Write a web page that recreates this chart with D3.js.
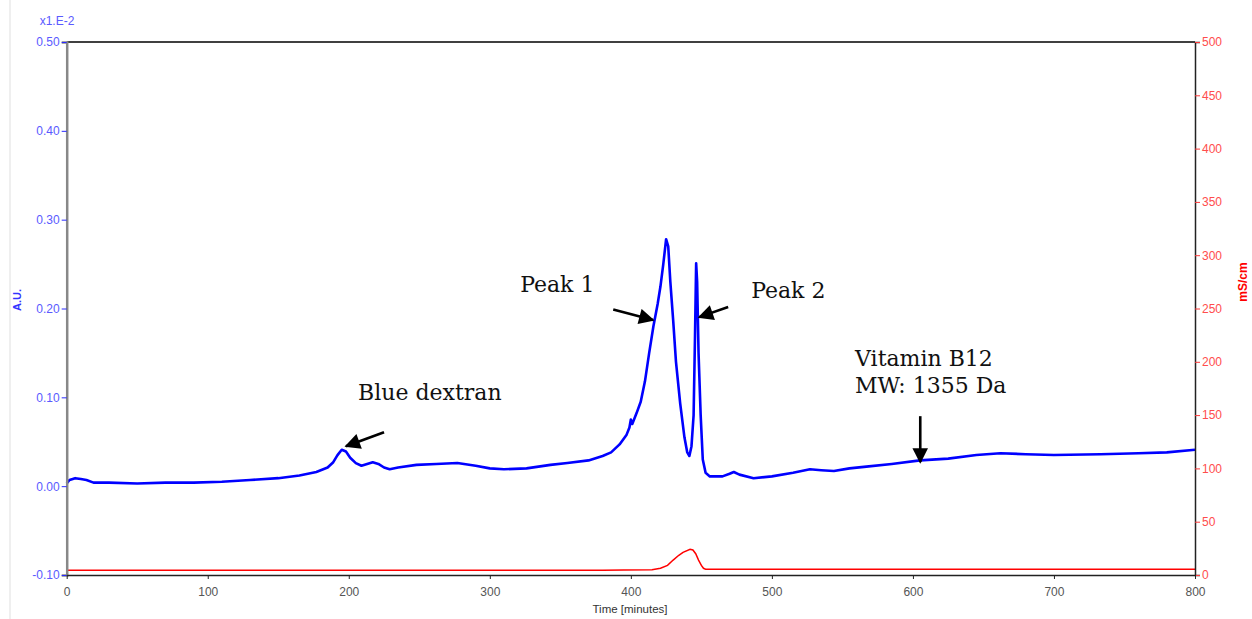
<!DOCTYPE html>
<html>
<head>
<meta charset="utf-8">
<script src="https://cdn.jsdelivr.net/npm/d3@7"></script>
<style>
  html, body { margin: 0; padding: 0; background: #fff; }
  svg { display: block; }
  .tick text { font-family: "Liberation Sans Narrow", "Arial Narrow", "Liberation Sans", Arial, sans-serif; }
</style>
</head>
<body>
<svg id="chart" width="1252" height="619"></svg>
<script>
// UV absorbance trace (A.U., left axis) against elution time
const absTime = [0, 2, 6, 10, 14, 19, 30, 50, 70, 90, 110, 130, 150, 165, 177, 185, 189, 192, 195, 198,
  201, 205, 209, 213, 217, 221, 225, 229, 235, 248, 262, 277, 290, 300, 310, 326, 343, 355, 370, 380,
  386, 392, 397, 399, 400, 401, 404, 407, 410, 413, 416, 419, 421, 423, 425, 426.5, 428, 430, 432, 435,
  438, 440, 441.5, 443, 444.5, 445.5, 446.3, 447, 448, 449.5, 451, 453, 456, 465, 470, 473, 477, 487, 500, 515,
  527, 535, 544, 555, 567, 585, 605, 625, 645, 662, 680, 700, 733, 760, 780, 800];
const absValue = [0.003, 0.007, 0.009, 0.008, 0.007, 0.004, 0.004, 0.003, 0.004, 0.004, 0.005, 0.007, 0.009, 0.012, 0.016, 0.021, 0.027, 0.035, 0.041, 0.039,
  0.032, 0.026, 0.023, 0.025, 0.027, 0.025, 0.021, 0.019, 0.021, 0.024, 0.025, 0.026, 0.023, 0.020, 0.019, 0.020, 0.024, 0.026, 0.029, 0.034,
  0.038, 0.047, 0.058, 0.066, 0.075, 0.070, 0.082, 0.095, 0.118, 0.150, 0.180, 0.205, 0.225, 0.250, 0.278, 0.270, 0.230, 0.187, 0.140, 0.093,
  0.055, 0.038, 0.034, 0.045, 0.080, 0.170, 0.251, 0.230, 0.150, 0.080, 0.030, 0.015, 0.011, 0.011, 0.014, 0.016, 0.013, 0.009, 0.011, 0.015,
  0.019, 0.018, 0.017, 0.020, 0.022, 0.025, 0.029, 0.031, 0.035, 0.037, 0.036, 0.035, 0.036, 0.037, 0.038, 0.041];

// Conductivity trace (mS/cm, right axis)
const condTime = [0, 380, 395, 415, 421, 426, 430, 434, 437, 442, 444, 446, 448, 450, 451.5, 453, 800];
const condValue = [4.5, 4.5, 4.6, 5.0, 6.3, 9, 14, 18.5, 21.3, 24.1, 23.5, 20, 14, 9, 6.3, 5.5, 5.5];

// Axis ticks
const timeTicks = [0, 100, 200, 300, 400, 500, 600, 700, 800];
const auTicks = [-0.10, 0.00, 0.10, 0.20, 0.30, 0.40, 0.50];
const condTicks = [0, 50, 100, 150, 200, 250, 300, 350, 400, 450, 500];

// Annotations: label text with anchor (time, A.U.), arrows from -> to in (time, A.U.)
const noteText = ["Blue dextran", "Peak 1", "Peak 2", "Vitamin B12", "MW: 1355 Da"];
const noteTime = [206.6, 321.5, 485.3, 559, 559];
const noteAU = [0.0968, 0.2185, 0.2117, 0.1355, 0.1044];
const arrowFrom = [[225, 0.0608], [387.5, 0.199], [469, 0.2016], [605.2, 0.0788]];
const arrowTo = [[198, 0.045], [415.8, 0.187], [448.4, 0.1903], [605.2, 0.027]];

const svg = d3.select("#chart");
const plotL = 66.7, plotR = 1195, plotT = 42, plotB = 575;

const x = d3.scaleLinear().domain([0, 800]).range([plotL, plotR]);
const y = d3.scaleLinear().domain([-0.1, 0.5]).range([plotB, plotT]);
const yR = d3.scaleLinear().domain([0, 500]).range([plotB, plotT]);

// faint frame edge on the far left
svg.append("rect").attr("x", 9).attr("y", 0).attr("width", 2).attr("height", 619).attr("fill", "#efefef");

// top border
svg.append("line").attr("x1", plotL).attr("x2", plotR).attr("y1", plotT).attr("y2", plotT)
  .attr("stroke", "#000").attr("stroke-width", 1.5);

// traces
const condLine = d3.line().x((d, i) => x(condTime[i])).y(d => yR(d));
svg.append("path").datum(condValue).attr("d", condLine)
  .attr("fill", "none").attr("stroke", "#ff0000").attr("stroke-width", 1.5);

const absLine = d3.line().x((d, i) => x(absTime[i])).y(d => y(d));
svg.append("path").datum(absValue).attr("d", absLine)
  .attr("fill", "none").attr("stroke", "#0000ff").attr("stroke-width", 2.6)
  .attr("stroke-linejoin", "round");

// left axis
const fmt = d => d.toFixed(2);
const gL = svg.append("g").attr("transform", `translate(${plotL},0)`);
gL.call(d3.axisLeft(y).tickValues(d3.range(-0.1, 0.501, 0.02)).tickSize(5).tickFormat(""));
gL.call(d3.axisLeft(y).tickValues(auTicks).tickSize(5).tickPadding(2).tickFormat(fmt));
gL.selectAll(".tick line").attr("stroke", "#2a2aff");
gL.selectAll(".tick text").attr("fill", "#5a5aff").attr("font-size", 12);
gL.selectAll(".domain").attr("stroke", "#888").attr("stroke-width", 2.5);

// right axis
const gR = svg.append("g").attr("transform", `translate(${plotR},0)`);
gR.call(d3.axisRight(yR).tickValues(d3.range(0, 501, 10)).tickSize(5).tickFormat(""));
gR.call(d3.axisRight(yR).tickValues(condTicks).tickSize(5).tickPadding(2).tickFormat(d3.format("d")));
gR.selectAll(".tick line").attr("stroke", "#ff3a3a");
gR.selectAll(".tick text").attr("fill", "#ff4d4d").attr("font-size", 12);
gR.selectAll(".domain").attr("stroke", "#222").attr("stroke-width", 1.5);

// bottom axis
const gB = svg.append("g").attr("transform", `translate(0,${plotB})`);
gB.call(d3.axisBottom(x).tickValues(d3.range(0, 801, 20)).tickSize(4).tickSizeOuter(0).tickFormat(""));
gB.call(d3.axisBottom(x).tickValues(timeTicks).tickSize(4).tickSizeOuter(0).tickPadding(8).tickFormat(d3.format("d")));
gB.selectAll(".tick line").attr("stroke", "#222");
gB.selectAll(".tick text").attr("fill", "#555").attr("font-size", 12);
gB.selectAll(".domain").attr("stroke", "#222").attr("stroke-width", 1.5);

// axis titles
const narrow = '"Liberation Sans Narrow", "Arial Narrow", "Liberation Sans", Arial, sans-serif';
svg.append("text").attr("x", 630).attr("y", 613).attr("text-anchor", "middle")
  .attr("font-family", narrow).attr("font-size", 11.5).attr("fill", "#333").text("Time [minutes]");
svg.append("text").attr("x", 57).attr("y", 25).attr("text-anchor", "middle")
  .attr("font-family", narrow).attr("font-size", 12).attr("fill", "#5a5aff").text("x1.E-2");
svg.append("text").attr("transform", "translate(21,300) rotate(-90)").attr("text-anchor", "middle")
  .attr("font-family", "Liberation Sans, Arial, sans-serif").attr("font-weight", "bold")
  .attr("font-size", 11).attr("fill", "#3333ff").text("A.U.");
svg.append("text").attr("transform", "translate(1247,282) rotate(-90)").attr("text-anchor", "middle")
  .attr("font-family", "Liberation Sans, Arial, sans-serif").attr("font-weight", "bold")
  .attr("font-size", 12).attr("fill", "#ff0000").text("mS/cm");

// annotations
svg.append("defs").append("marker")
  .attr("id", "head").attr("viewBox", "0 0 10 10").attr("refX", 9).attr("refY", 5)
  .attr("markerWidth", 6.5).attr("markerHeight", 6).attr("markerUnits", "strokeWidth")
  .attr("orient", "auto")
  .append("path").attr("d", "M0,0 L10,5 L0,10 Z").attr("fill", "#000");

svg.selectAll(".arrow").data(arrowFrom).enter().append("line")
  .attr("class", "arrow")
  .attr("x1", d => x(d[0])).attr("y1", d => y(d[1]))
  .attr("x2", (d, i) => x(arrowTo[i][0])).attr("y2", (d, i) => y(arrowTo[i][1]))
  .attr("stroke", "#000").attr("stroke-width", 2.6).attr("marker-end", "url(#head)");

svg.selectAll(".note").data(noteText).enter().append("text")
  .attr("class", "note")
  .attr("x", (d, i) => x(noteTime[i])).attr("y", (d, i) => y(noteAU[i]))
  .attr("font-family", '"DejaVu Serif", "Liberation Serif", serif')
  .attr("font-size", 22).attr("fill", "#111").text(d => d);
</script>
</body>
</html>
